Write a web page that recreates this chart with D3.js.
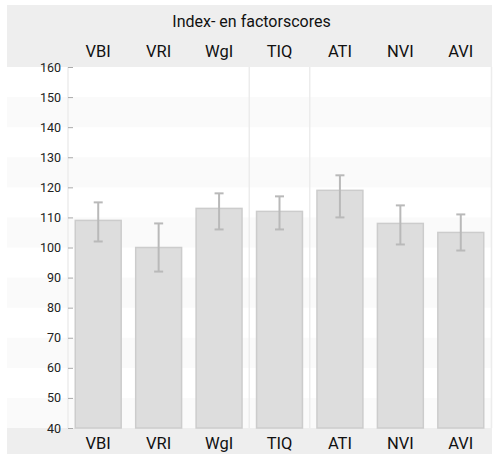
<!DOCTYPE html>
<html>
<head>
<meta charset="utf-8">
<script src="https://cdn.jsdelivr.net/npm/d3@7"></script>
<style>
  body { margin: 0; background: #fff; }
  text { font-family: Roboto, "Noto Sans", sans-serif; }
</style>
</head>
<body>
<div id="chart"></div>
<script>
// data
const categories = ["VBI", "VRI", "WgI", "TIQ", "ATI", "NVI", "AVI"];
const scores = [109, 100, 113, 112, 119, 108, 105];
const upper = [115, 108, 118, 117, 124, 114, 111];
const lower = [102, 92, 106, 106, 110, 101, 99];
const yTicks = [40, 50, 60, 70, 80, 90, 100, 110, 120, 130, 140, 150, 160];
const bandStarts = [40, 60, 80, 100, 120, 140];
const separators = ["TIQ", "ATI"];
const title = "Index- en factorscores";

const W = 498, H = 454;
const box = {left: 7, right: 492, top: 5, bottom: 454};
const plot = {left: 68, right: 491, top: 67, bottom: 428};

const svg = d3.select("#chart").append("svg")
    .attr("width", W)
    .attr("height", H);

const x = d3.scaleBand().domain(categories)
    .range([plot.left, plot.right])
    .paddingInner(0.24).paddingOuter(0.12);
const y = d3.scaleLinear().domain([40, 160]).range([plot.bottom, plot.top]);

// header and footer strips
svg.append("rect")
    .attr("x", box.left).attr("y", box.top)
    .attr("width", box.right - box.left).attr("height", plot.top - box.top)
    .attr("fill", "#eeeeee");
svg.append("rect")
    .attr("x", box.left).attr("y", plot.bottom)
    .attr("width", box.right - box.left).attr("height", box.bottom - plot.bottom)
    .attr("fill", "#eeeeee");

// faint alternating bands
svg.selectAll(".band").data(bandStarts).join("rect")
    .attr("class", "band")
    .attr("x", box.left)
    .attr("y", d => y(d + 10))
    .attr("width", plot.right - box.left)
    .attr("height", d => y(d) - y(d + 10))
    .attr("fill", "#fafafa");

// plot frame lines
svg.append("line")
    .attr("x1", plot.left).attr("x2", plot.left)
    .attr("y1", plot.top).attr("y2", plot.bottom)
    .attr("stroke", "#ececec").attr("stroke-width", 1.5);
svg.append("line")
    .attr("x1", plot.right + 0.5).attr("x2", plot.right + 0.5)
    .attr("y1", plot.top).attr("y2", plot.bottom)
    .attr("stroke", "#ececec").attr("stroke-width", 1.5);

// group separators
svg.selectAll(".sep").data(separators).join("line")
    .attr("class", "sep")
    .attr("x1", d => x(d) - x.step() * x.paddingInner() / 2)
    .attr("x2", d => x(d) - x.step() * x.paddingInner() / 2)
    .attr("y1", plot.top).attr("y2", plot.bottom)
    .attr("stroke", "#ececec").attr("stroke-width", 1.5);

// y axis
const yAxis = svg.append("g")
    .attr("transform", "translate(" + (plot.left + 5) + ",0)")
    .call(d3.axisLeft(y).tickValues(yTicks).tickSize(5).tickPadding(7));
yAxis.select(".domain").remove();
yAxis.selectAll(".tick line").attr("stroke", "#aaa");
yAxis.selectAll(".tick text")
    .attr("fill", "#222")
    .style("font-size", "12.5px");

// bars
svg.selectAll(".bar").data(scores).join("rect")
    .attr("class", "bar")
    .attr("x", (d, i) => x(categories[i]))
    .attr("y", d => y(d))
    .attr("width", x.bandwidth())
    .attr("height", d => y(40) - y(d))
    .attr("fill", "#dddddd")
    .attr("stroke", "#cccccc")
    .attr("stroke-width", 1.5);

// error bars
const err = svg.selectAll(".err").data(categories).join("g")
    .attr("class", "err")
    .attr("stroke", "#b9b9b9")
    .attr("stroke-width", 2);
err.append("line")
    .attr("x1", d => x(d) + x.bandwidth() / 2)
    .attr("x2", d => x(d) + x.bandwidth() / 2)
    .attr("y1", (d, i) => y(upper[i]))
    .attr("y2", (d, i) => y(lower[i]));
err.append("line")
    .attr("x1", d => x(d) + x.bandwidth() / 2 - 4.5)
    .attr("x2", d => x(d) + x.bandwidth() / 2 + 4.5)
    .attr("y1", (d, i) => y(upper[i]))
    .attr("y2", (d, i) => y(upper[i]));
err.append("line")
    .attr("x1", d => x(d) + x.bandwidth() / 2 - 4.5)
    .attr("x2", d => x(d) + x.bandwidth() / 2 + 4.5)
    .attr("y1", (d, i) => y(lower[i]))
    .attr("y2", (d, i) => y(lower[i]));

// category labels, top and bottom
svg.append("g")
    .attr("transform", "translate(0,57)")
    .call(d3.axisTop(x).tickSize(0).tickPadding(0))
    .call(g => g.select(".domain").remove())
    .selectAll("text")
    .attr("fill", "#111")
    .attr("dy", 0)
    .style("font-size", "16.5px");
svg.append("g")
    .attr("transform", "translate(0,449)")
    .call(d3.axisTop(x).tickSize(0).tickPadding(0))
    .call(g => g.select(".domain").remove())
    .selectAll("text")
    .attr("fill", "#111")
    .attr("dy", 0)
    .style("font-size", "16.5px");

// title
svg.append("text")
    .attr("x", (box.left + box.right) / 2 + 2)
    .attr("y", 27)
    .attr("text-anchor", "middle")
    .attr("fill", "#111")
    .style("font-size", "16px")
    .text(title);
</script>
</body>
</html>
